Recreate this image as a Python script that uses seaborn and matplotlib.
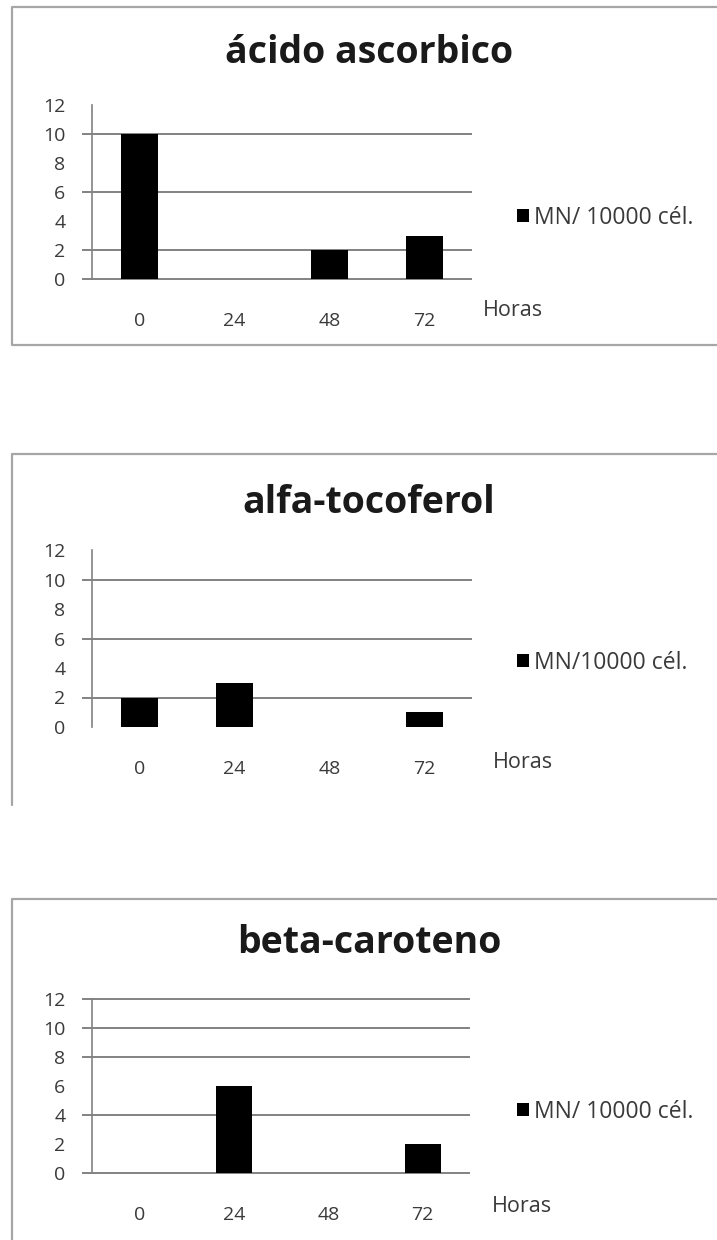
import matplotlib
matplotlib.use("Agg")
import matplotlib.pyplot as plt
from matplotlib.lines import Line2D
import seaborn as sns

# ---- data -------------------------------------------------------------
horas = ["0", "24", "48", "72"]
titulos = ["ácido ascorbico", "alfa-tocoferol", "beta-caroteno"]
acido_ascorbico = [10, 0, 2, 3]
alfa_tocoferol = [2, 3, 0, 1]
beta_caroteno = [0, 6, 0, 2]
series = [acido_ascorbico, alfa_tocoferol, beta_caroteno]
leyendas = ["MN/ 10000 cél.", "MN/10000 cél.", "MN/ 10000 cél."]
# horizontal rules drawn in each chart
rejillas = [[0, 2, 6, 10], [2, 6, 10], [0, 4, 8, 10, 12]]
y_ticks = [0, 2, 4, 6, 8, 10, 12]

# ---- layout (pixels) --------------------------------------------------
W, H = 717, 1240
sns.set_theme(style="white")
plt.rcParams["font.family"] = ["Open Sans", "DejaVu Sans"]

fig = plt.figure(figsize=(W / 100, H / 100), dpi=100)
fig.patch.set_facecolor("white")

# left, zero-line y, top(12) y, right, frame top, frame bottom, title y,
# legend y, "Horas" x/y
paneles = [
    dict(left=92, y0=279, y12=105, right=472, ftop=7, fbot=345, ty=53,
         ly=218, hx=483, hy=310),
    dict(left=92, y0=727, y12=550, right=472, ftop=454, fbot=None, fend=805,
         ty=503, ly=663, hx=493, hy=762),
    dict(left=92, y0=1173, y12=999, right=470, ftop=899, fbot=None, fend=1245,
         ty=943, ly=1112, hx=492, hy=1207),
]

GRID = "#828282"
FRAME = "#a6a6a6"
TXT = "#3a3a3a"


def fx(px):
    return px / W


def fy(py):
    return 1 - py / H


for p, titulo, valores, leyenda, niveles in zip(paneles, titulos, series,
                                                leyendas, rejillas):
    # outer frame of the chart
    if p["fbot"] is not None:
        xs = [fx(W + 5), fx(12), fx(12), fx(W + 5)]
        ys = [fy(p["ftop"]), fy(p["ftop"]), fy(p["fbot"]), fy(p["fbot"])]
    else:
        xs = [fx(W + 5), fx(12), fx(12)]
        ys = [fy(p["ftop"]), fy(p["ftop"]), fy(p["fend"])]
    fig.add_artist(Line2D(xs, ys, color=FRAME, lw=1.6))

    ax = fig.add_axes([fx(p["left"]), fy(p["y0"]),
                       (p["right"] - p["left"]) / W, (p["y0"] - p["y12"]) / H])
    ax.set_facecolor("none")
    sns.barplot(x=horas, y=valores, color="black", saturation=1, width=0.38,
                ax=ax, zorder=3, label=leyenda, linewidth=0)
    ax.set_xlim(-0.5, 3.5)
    ax.set_ylim(0, 12)

    # horizontal rules, reaching a little left of the axis like tick marks
    ax.hlines(niveles, -10 / (p["right"] - p["left"]), 1,
              transform=ax.get_yaxis_transform(), colors=GRID, lw=1.4,
              zorder=1, clip_on=False)

    for s in ["top", "right", "bottom"]:
        ax.spines[s].set_visible(False)
    ax.spines["left"].set_color(GRID)
    ax.spines["left"].set_linewidth(1.2)

    ax.set_yticks(y_ticks)
    ax.set_yticklabels([str(v) for v in y_ticks])
    ax.tick_params(axis="y", length=0, pad=19, labelsize=14, labelcolor=TXT)
    ax.set_xticks(range(len(horas)))
    ax.set_xticklabels(horas)
    ax.tick_params(axis="x", which="major", length=0, pad=24, labelsize=14,
                   labelcolor=TXT)
    ax.set_xticks([-0.5, 0.5, 1.5, 2.5, 3.5], minor=True)
    ax.tick_params(axis="x", which="minor", direction="out", length=7.5,
                   width=1.1, color=GRID)
    ax.set_xlabel("")
    ax.set_ylabel("")
    ax.grid(False)

    ax.legend(loc="center left", bbox_to_anchor=(fx(508), fy(p["ly"])),
              bbox_transform=fig.transFigure, frameon=False, fontsize=16.5,
              handlelength=0.5, handleheight=0.5, handletextpad=0.25,
              labelcolor=TXT, borderaxespad=0)

    fig.text(fx(369), fy(p["ty"]), titulo, ha="center", va="center",
             fontsize=27, fontweight="bold", color="#1a1a1a")
    fig.text(fx(p["hx"]), fy(p["hy"]), "Horas", ha="left", va="center",
             fontsize=15.5, color=TXT)

fig.savefig("out.png", dpi=100, facecolor="white")
